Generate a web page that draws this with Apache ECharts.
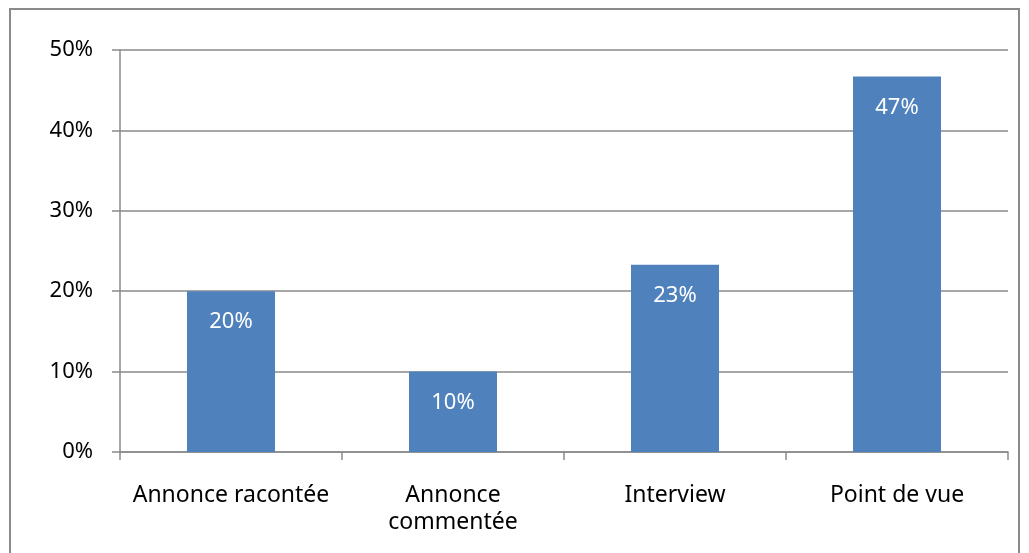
<!DOCTYPE html>
<html><head><meta charset="utf-8">
<script src="https://cdn.jsdelivr.net/npm/echarts@6/dist/echarts.min.js"></script>
<style>html,body{margin:0;padding:0;background:#fff}#c{width:1029px;height:553px}
#frame{position:absolute;left:9px;top:8px;width:1011px;height:560px;border:2px solid #8a8a8a;box-sizing:border-box;pointer-events:none}</style>
</head><body><div id="c"></div><div id="frame"></div>
<script>
const categories = ['Annonce racontée', 'Annonce\ncommentée', 'Interview', 'Point de vue'];
const values = [20, 10, 23.3, 46.7];
const valueLabels = ['20%', '10%', '23%', '47%'];
const yTicks = [0, 10, 20, 30, 40, 50];

const chart = echarts.init(document.getElementById('c'));
const font = '"Noto Sans", "Open Sans", sans-serif';
chart.setOption({
  animation: false,
  grid: {left: 120, right: 21, top: 50, bottom: 101, containLabel: false},
  xAxis: {
    type: 'category', data: categories,
    axisLine: {lineStyle: {color: '#8a8a8a', width: 1.5}},
    axisTick: {show: true, length: 8, interval: 0, alignWithLabel: false, lineStyle: {color: '#8a8a8a', width: 1.5}},
    axisLabel: {color: '#000', fontSize: 23, fontFamily: font, margin: 30, lineHeight: 27, interval: 0}
  },
  yAxis: {
    type: 'value', min: 0, max: 50, interval: 10,
    axisLine: {show: true, lineStyle: {color: '#8a8a8a', width: 1.5}},
    axisTick: {show: true, length: 8, lineStyle: {color: '#8a8a8a', width: 1.5}},
    splitLine: {lineStyle: {color: '#8a8a8a', width: 1.5}},
    axisLabel: {color: '#000', fontSize: 22, fontFamily: font, margin: 27, formatter: v => v + '%'}
  },
  series: [{
    type: 'bar', data: values, barWidth: 88,
    itemStyle: {color: '#4F81BD'},
    label: {show: true, position: 'insideTop', distance: 20, color: '#fff', fontSize: 22, fontFamily: font,
      formatter: p => valueLabels[p.dataIndex]}
  }]
});
</script></body></html>
